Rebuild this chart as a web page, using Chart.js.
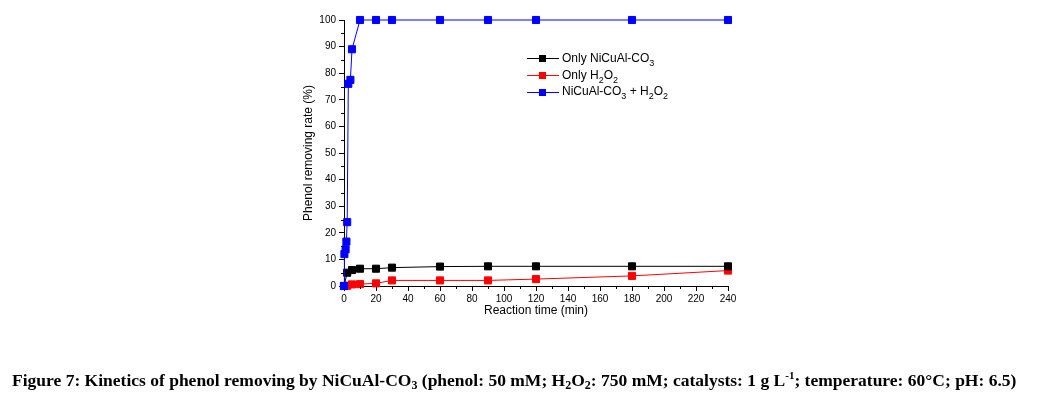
<!DOCTYPE html>
<html>
<head>
<meta charset="utf-8">
<script src="https://cdn.jsdelivr.net/npm/chart.js@4.4.0/dist/chart.umd.min.js"></script>
<style>
  body { margin: 0; background: #fff; }
  #wrap { position: relative; width: 1041px; height: 394px; }
  #legend { position: absolute; left: 527px; top: 50px; font: 12px 'Liberation Sans', Arial, sans-serif; color: #000; }
  .row { height: 16.7px; line-height: 16.7px; white-space: nowrap; }
  .key { position: relative; display: inline-block; vertical-align: middle; width: 32px; height: 1px; margin-right: 3px; }
  .key span { position: absolute; left: 12px; top: -3px; width: 7px; height: 7px; }
  #legend sub { font-size: 9px; position: relative; top: 4px; vertical-align: baseline; line-height: 0; }
  sup { font-size: 11px; vertical-align: 7px; line-height: 0; }
  #caption { position: absolute; left: 12px; top: 370px; font: bold 17.5px 'Liberation Serif', 'Times New Roman', serif; color: #000; white-space: nowrap; }
  #caption sub { font-size: 12px; vertical-align: -3px; line-height: 0; }
</style>
</head>
<body>
<div id="wrap">
  <canvas id="chart"></canvas>
  <div id="legend">
    <div class="row"><span class="key" style="background:#000"><span style="background:#000"></span></span>Only NiCuAl-CO<sub>3</sub></div>
    <div class="row"><span class="key" style="background:#f00"><span style="background:#f00"></span></span>Only H<sub>2</sub>O<sub>2</sub></div>
    <div class="row"><span class="key" style="background:#00f"><span style="background:#00f"></span></span>NiCuAl-CO<sub>3</sub>&nbsp;+ H<sub>2</sub>O<sub>2</sub></div>
  </div>
  <div id="caption">Figure 7: Kinetics of phenol removing by NiCuAl-CO<sub>3</sub> (phenol: 50 mM; H<sub>2</sub>O<sub>2</sub>: 750 mM; catalysts: 1 g L<sup>-1</sup>; temperature: 60°C; pH: 6.5)</div>
</div>
<script>
// reaction time (min) and phenol removing rate (%)
const timeCat = [0, 2, 5, 10, 20, 30, 60, 90, 120, 180, 240];
const rateCat = [0, 5.0, 6.0, 6.5, 6.5, 6.9, 7.3, 7.4, 7.4, 7.4, 7.4];

const timeH2O2 = [0, 2, 5, 10, 20, 30, 60, 90, 120, 180, 240];
const rateH2O2 = [0, 0.1, 0.6, 0.7, 1.0, 2.1, 2.1, 2.1, 2.6, 3.8, 5.8];

const timeBoth = [0, 0.25, 1, 1.5, 2, 2.7, 4, 5, 10, 20, 30, 60, 90, 120, 180, 240];
const rateBoth = [0, 12, 13.8, 16.7, 24, 76, 77.5, 89, 100, 100, 100, 100, 100, 100, 100, 100];

const xTicks = [0, 20, 40, 60, 80, 100, 120, 140, 160, 180, 200, 220, 240];
const yTicks = [0, 10, 20, 30, 40, 50, 60, 70, 80, 90, 100];
const xMinor = [10, 30, 50, 70, 90, 110, 130, 150, 170, 190, 210, 230];
const yMinor = [5, 15, 25, 35, 45, 55, 65, 75, 85, 95];

function pts(xs, ys) {
    return xs.map((x, i) => ({ x: x, y: ys[i] }));
}

Chart.defaults.font.family = "'Liberation Sans', Arial, sans-serif";
Chart.defaults.color = '#000';

const minorTicks = {
    id: 'minorTicks',
    afterDraw(chart) {
        const ctx = chart.ctx, sx = chart.scales.x, sy = chart.scales.y;
        ctx.save();
        ctx.strokeStyle = '#000';
        ctx.lineWidth = 1;
        ctx.beginPath();
        xMinor.forEach(v => {
            const px = Math.round(sx.getPixelForValue(v)) + 0.5;
            ctx.moveTo(px, sy.bottom);
            ctx.lineTo(px, sy.bottom + 3);
        });
        yMinor.forEach(v => {
            const py = Math.round(sy.getPixelForValue(v)) + 0.5;
            ctx.moveTo(sx.left, py);
            ctx.lineTo(sx.left - 3, py);
        });
        ctx.stroke();
        ctx.restore();
    }
};

function ds(label, data, color, order) {
    return {
        label: label,
        data: data,
        borderColor: color,
        backgroundColor: color,
        borderWidth: 1,
        pointStyle: 'rect',
        pointRadius: 5,
        pointHoverRadius: 5,
        showLine: true,
        clip: false,
        order: order
    };
}

new Chart(document.getElementById('chart'), {
    type: 'scatter',
    data: {
        datasets: [
            ds('Only NiCuAl-CO3', pts(timeCat, rateCat), '#000000', 2),
            ds('Only H2O2', pts(timeH2O2, rateH2O2), '#ff0000', 3),
            ds('NiCuAl-CO3 + H2O2', pts(timeBoth, rateBoth), '#0000ff', 1)
        ]
    },
    options: {
        responsive: true,
        maintainAspectRatio: false,
        animation: false,
        layout: { padding: { left: 297, right: 313, top: 20, bottom: 72 } },
        plugins: { legend: { display: false }, tooltip: { enabled: false } },
        scales: {
            x: {
                type: 'linear', min: 0, max: 240,
                afterBuildTicks: s => { s.ticks = xTicks.map(v => ({ value: v })); },
                afterFit: s => { s.height = 36; },
                ticks: { font: { size: 10 }, maxRotation: 0, padding: 2 },
                grid: { drawOnChartArea: false, color: '#000', tickLength: 5 },
                border: { color: '#000', width: 1 },
                title: { display: true, text: 'Reaction time (min)', font: { size: 12 } }
            },
            y: {
                min: 0, max: 100,
                afterBuildTicks: s => { s.ticks = yTicks.map(v => ({ value: v })); },
                afterFit: s => { s.width = 47; },
                ticks: { font: { size: 10 }, padding: 3 },
                grid: { drawOnChartArea: false, color: '#000', tickLength: 5 },
                border: { color: '#000', width: 1 },
                title: { display: true, text: 'Phenol removing rate (%)', font: { size: 12 } }
            }
        }
    },
    plugins: [minorTicks]
});
</script>
</body>
</html>
